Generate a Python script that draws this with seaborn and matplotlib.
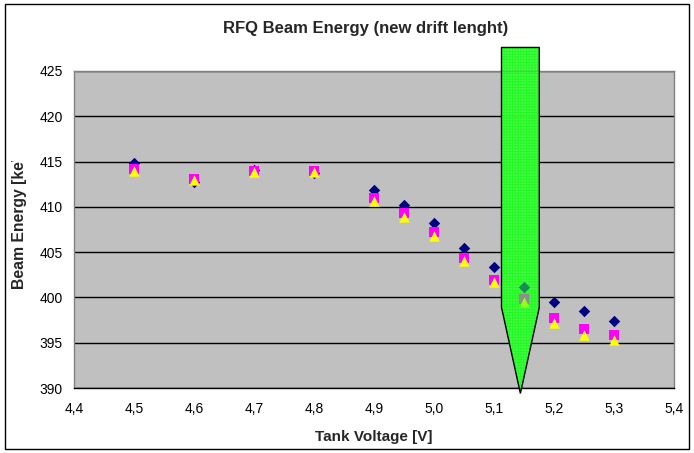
import matplotlib
matplotlib.use('Agg')
import matplotlib.pyplot as plt
import seaborn as sns
import numpy as np
from matplotlib.patches import Polygon, Rectangle

# data
voltage = [4.5, 4.6, 4.7, 4.8, 4.9, 4.95, 5.0, 5.05, 5.1, 5.15, 5.2, 5.25, 5.3]
energy_diamond = [414.8, 412.7, 414.1, 413.75, 411.9, 410.2, 408.2, 405.5, 403.4, 401.2, 399.45, 398.5, 397.4]
energy_square = [414.2, 413.1, 414.0, 414.0, 411.0, 409.3, 407.2, 404.4, 401.9, 399.8, 397.7, 396.5, 395.8]
energy_triangle = [414.0, 413.0, 413.9, 413.85, 410.65, 408.9, 406.8, 404.0, 401.65, 399.45, 397.2, 395.85, 395.3]

x_ticks = [4.4, 4.5, 4.6, 4.7, 4.8, 4.9, 5.0, 5.1, 5.2, 5.3, 5.4]
x_tick_labels = ['4,4', '4,5', '4,6', '4,7', '4,8', '4,9', '5,0', '5,1', '5,2', '5,3', '5,4']
y_ticks = [390, 395, 400, 405, 410, 415, 420, 425]

# marker arrow (working point)
arrow_x = 5.144
arrow_halfwidth = 0.0315
arrow_top, arrow_shoulder, arrow_tip = 427.6, 398.9, 389.4

sns.set_style('white')
plt.rcParams['font.family'] = ['Liberation Sans', 'DejaVu Sans']
plt.rcParams['hatch.linewidth'] = 0.7

fig = plt.figure(figsize=(6.94, 4.53), dpi=100)
ax = fig.add_axes([74/694, 1 - 388/453, 600/694, 317/453])
ax.set_facecolor('#C0C0C0')

pts = [(arrow_x - arrow_halfwidth, arrow_top), (arrow_x + arrow_halfwidth, arrow_top),
       (arrow_x + arrow_halfwidth, arrow_shoulder), (arrow_x, arrow_tip),
       (arrow_x - arrow_halfwidth, arrow_shoulder)]
# opaque green body under the markers
ax.add_patch(Polygon(pts, closed=True, facecolor=(0.35, 1.0, 0.35, 0.9), edgecolor='#10F010',
                     hatch='++++++', linewidth=0, clip_on=False, zorder=2))

sns.scatterplot(x=voltage, y=energy_diamond, marker='D', color='#000080', s=34, linewidth=0, ax=ax, zorder=3)
sns.scatterplot(x=voltage, y=energy_square, marker='s', color='#FF00FF', s=50, linewidth=0, ax=ax, zorder=4)
sns.scatterplot(x=voltage, y=energy_triangle, marker='^', color='#FFFF00', s=56, linewidth=0, ax=ax, zorder=5)

# translucent green layer over the markers, then the outline
ax.add_patch(Polygon(pts, closed=True, facecolor=(0.2, 1.0, 0.2, 0.55), edgecolor='none',
                     linewidth=0, clip_on=False, zorder=6))
ax.add_patch(Polygon(pts, closed=True, fill=False, edgecolor='black', linewidth=1,
                     clip_on=False, zorder=7))

ax.set_xlim(4.4, 5.4)
ax.set_ylim(390, 425)
ax.set_xticks(x_ticks)
ax.set_xticklabels(x_tick_labels)
ax.set_yticks(y_ticks)
ax.yaxis.grid(True, color='black', linewidth=1)
ax.set_axisbelow(True)
ax.tick_params(axis='both', direction='out', labelsize=10, colors='black')
ax.tick_params(axis='y', length=6, width=1, pad=2)
ax.tick_params(axis='x', length=4, width=1, pad=6)
ax.set_xlabel('')
ax.set_ylabel('')

for side in ['left', 'top', 'right']:
    ax.spines[side].set_color('#808080')
    ax.spines[side].set_linewidth(1)
ax.spines['bottom'].set_color('black')
ax.spines['bottom'].set_linewidth(1)

fig.text(366/694, 1 - 28/453, 'RFQ Beam Energy (new drift lenght)', ha='center', va='center',
         fontsize=12, fontweight='bold')
fig.text(374/694, 1 - 437/453, 'Tank Voltage [V]', ha='center', va='center',
         fontsize=11, fontweight='bold')
fig.text(20/694, 1 - 289/453, 'Beam Energy [keV]', ha='center', va='bottom', rotation=90,
         fontsize=11.3, fontweight='bold', zorder=1)
# the label is cut off at the top in the original chart
fig.add_artist(Rectangle((8/694, 1 - 161/453), 26/694, 120/453, transform=fig.transFigure,
                         facecolor='white', edgecolor='none', zorder=10))

fig.add_artist(Rectangle((5/694, 4/453), 684/694, 445/453, transform=fig.transFigure,
                         fill=False, edgecolor='black', linewidth=1, zorder=11))

fig.savefig('out.png', dpi=100)
